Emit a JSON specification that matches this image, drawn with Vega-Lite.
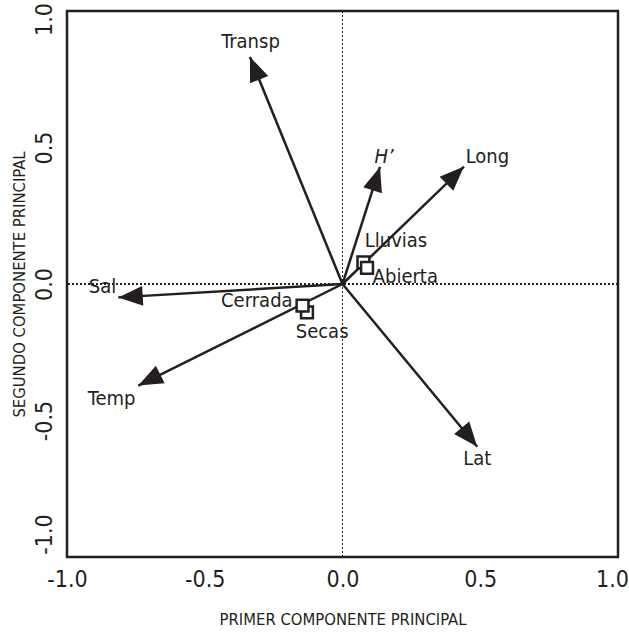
{
  "$schema": "https://vega.github.io/schema/vega-lite/v6.json",
  "width": 551,
  "height": 546,
  "autosize": {"type": "none"},
  "padding": {"left": 67, "top": 11, "right": 11, "bottom": 77},
  "background": "white",
  "config": {
    "view": {"stroke": "#231f20", "strokeWidth": 2.5},
    "font": "'DejaVu Sans Condensed', 'Liberation Sans Narrow', sans-serif"
  },
  "datasets": {
    "vectors": [
      {"name": "Transp", "x": -0.336, "y": 0.832, "lx": -0.334, "ly": 0.887},
      {"name": "H’", "x": 0.136, "y": 0.429, "lx": 0.151, "ly": 0.466},
      {"name": "Long", "x": 0.441, "y": 0.43, "lx": 0.526, "ly": 0.466},
      {"name": "Sal", "x": -0.814, "y": -0.049, "lx": -0.871, "ly": -0.012},
      {"name": "Temp", "x": -0.741, "y": -0.372, "lx": -0.838, "ly": -0.421},
      {"name": "Lat", "x": 0.489, "y": -0.596, "lx": 0.489, "ly": -0.641}
    ],
    "groups": [
      {"name": "Lluvias", "x": 0.076, "y": 0.079, "lx": 0.194, "ly": 0.159},
      {"name": "Abierta", "x": 0.089, "y": 0.059, "lx": 0.228, "ly": 0.026},
      {"name": "Secas", "x": -0.129, "y": -0.104, "lx": -0.074, "ly": -0.177},
      {"name": "Cerrada", "x": -0.145, "y": -0.079, "lx": -0.311, "ly": -0.061}
    ]
  },
  "layer": [
    {
      "data": {"name": "vectors"},
      "mark": {"type": "rule", "strokeDash": [2, 2], "strokeWidth": 1, "color": "#231f20"},
      "encoding": {
        "x": {"datum": 0, "type": "quantitative",
          "scale": {"domain": [-1, 1], "nice": false, "zero": false},
          "axis": {
            "title": "PRIMER COMPONENTE PRINCIPAL",
            "values": [-1, -0.5, 0, 0.5, 1],
            "labelExpr": "replace(format(datum.value, '.1f'), '−', '-')",
            "grid": false, "ticks": false, "domain": false,
            "labelFontSize": 23, "labelColor": "#231f20",
            "labelOffset": {"condition": {"test": "datum.value == 1", "value": -6}, "value": 0},
            "labelPadding": 11, "labelFlush": false, "labelOverlap": false, "labelBound": false,
            "titleFontSize": 16.5, "titleFontWeight": "normal", "titleColor": "#231f20",
            "titlePadding": 20
          }
        }
      }
    },
    {
      "data": {"name": "vectors"},
      "mark": {"type": "rule", "strokeDash": [2, 2], "strokeWidth": 1, "color": "#231f20"},
      "encoding": {
        "y": {"datum": 0, "type": "quantitative",
          "scale": {"domain": [-1, 1], "nice": false, "zero": false},
          "axis": {
            "title": "SEGUNDO COMPONENTE PRINCIPAL",
            "values": [-1, -0.5, 0, 0.5, 1],
            "labelExpr": "replace(format(datum.value, '.1f'), '−', '-')",
            "grid": false, "ticks": false, "domain": false,
            "labelFontSize": 23, "labelColor": "#231f20",
            "labelAngle": -90, "labelAlign": "center", "labelBaseline": "bottom",
            "labelOffset": {"condition": [{"test": "datum.value == 1", "value": 8}, {"test": "datum.value == -1", "value": -23}], "value": 0},
            "labelPadding": 11, "labelFlush": false, "labelOverlap": false, "labelBound": false,
            "titleFontSize": 16.5, "titleFontWeight": "normal", "titleColor": "#231f20",
            "titlePadding": 6
          }
        }
      }
    },
    {
      "data": {"name": "vectors"},
      "mark": {"type": "rule", "strokeWidth": 2.5, "color": "#231f20"},
      "encoding": {
        "x": {"field": "x", "type": "quantitative"},
        "y": {"field": "y", "type": "quantitative"},
        "x2": {"datum": 0},
        "y2": {"datum": 0}
      }
    },
    {
      "data": {"name": "vectors"},
      "transform": [{"calculate": "atan2(datum.x, datum.y) * 180 / PI", "as": "angle"}],
      "mark": {"type": "point", "shape": "M0,0L-0.4,1L0.4,1Z", "filled": true, "color": "#231f20", "opacity": 1, "size": 2400, "strokeWidth": 0},
      "encoding": {
        "x": {"field": "x", "type": "quantitative"},
        "y": {"field": "y", "type": "quantitative"},
        "angle": {"field": "angle", "type": "quantitative", "scale": null}
      }
    },
    {
      "data": {"name": "vectors"},
      "transform": [{"filter": "datum.name != 'H’'"}],
      "mark": {"type": "text", "fontSize": 20, "color": "#231f20"},
      "encoding": {
        "x": {"field": "lx", "type": "quantitative"},
        "y": {"field": "ly", "type": "quantitative"},
        "text": {"field": "name"}
      }
    },
    {
      "data": {"name": "vectors"},
      "transform": [{"filter": "datum.name == 'H’'"}],
      "mark": {"type": "text", "fontSize": 20, "fontStyle": "italic", "color": "#231f20"},
      "encoding": {
        "x": {"field": "lx", "type": "quantitative"},
        "y": {"field": "ly", "type": "quantitative"},
        "text": {"field": "name"}
      }
    },
    {
      "data": {"name": "groups"},
      "mark": {"type": "point", "shape": "square", "filled": true, "fill": "white", "stroke": "#231f20", "strokeWidth": 2.5, "opacity": 1, "size": 140},
      "encoding": {
        "x": {"field": "x", "type": "quantitative"},
        "y": {"field": "y", "type": "quantitative"}
      }
    },
    {
      "data": {"name": "groups"},
      "mark": {"type": "text", "fontSize": 20, "color": "#231f20"},
      "encoding": {
        "x": {"field": "lx", "type": "quantitative"},
        "y": {"field": "ly", "type": "quantitative"},
        "text": {"field": "name"}
      }
    }
  ]
}
